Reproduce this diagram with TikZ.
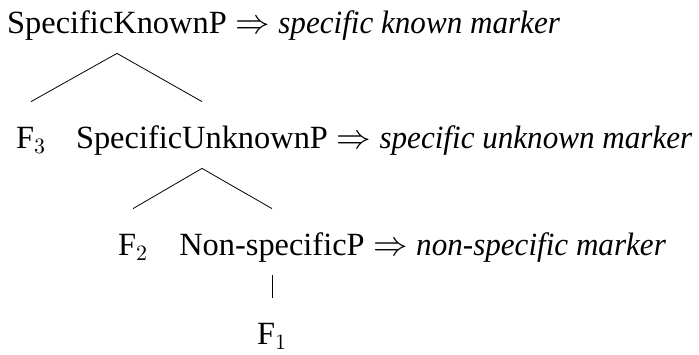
\documentclass[tikz,border=0pt]{standalone}
\usepackage{fontspec}
\setmainfont{Liberation Serif}[ItalicFeatures={FakeStretch=0.96}]
\begin{document}
\begin{tikzpicture}[x=0.5pt,y=-0.5pt,
      font=\fontsize{16.2pt}{19pt}\selectfont,
      % tree nodes sit on their baselines
      tn/.style={anchor=base,inner sep=0pt,text height=23pt,text depth=10pt},
      mk/.style={anchor=base west,inner sep=0pt}]
      \useasboundingbox (0,0) rectangle (699,354);
      \node[tn] (skp) at (117,33) {SpecificKnownP};
      \node[mk] (skpm) at (skp.base east) {\ $\Rightarrow$\ \textit{specific known marker}};
      \node[tn] (f3) at (31,148) {$\mathrm{F}_3$};
      \node[tn] (sup) at (202,148) {SpecificUnknownP};
      \node[mk] (supm) at (sup.base east) {\ $\Rightarrow$\ \textit{specific unknown marker}};
      \node[tn] (f2) at (133,255) {$\mathrm{F}_2$};
      \node[tn] (nsp) at (272,255) {Non-specificP};
      \node[mk] (nspm) at (nsp.base east) {\ $\Rightarrow$\ \textit{non-specific marker}};
      \node[tn] (f1) at (272,344) {$\mathrm{F}_1$};
      \draw (skp.south) -- (f3.north);
      \draw (skp.south) -- (sup.north);
      \draw (sup.south) -- (f2.north);
      \draw (sup.south) -- (nsp.north);
      \draw (nsp.south) -- (f1.north);
\end{tikzpicture}
\end{document}
